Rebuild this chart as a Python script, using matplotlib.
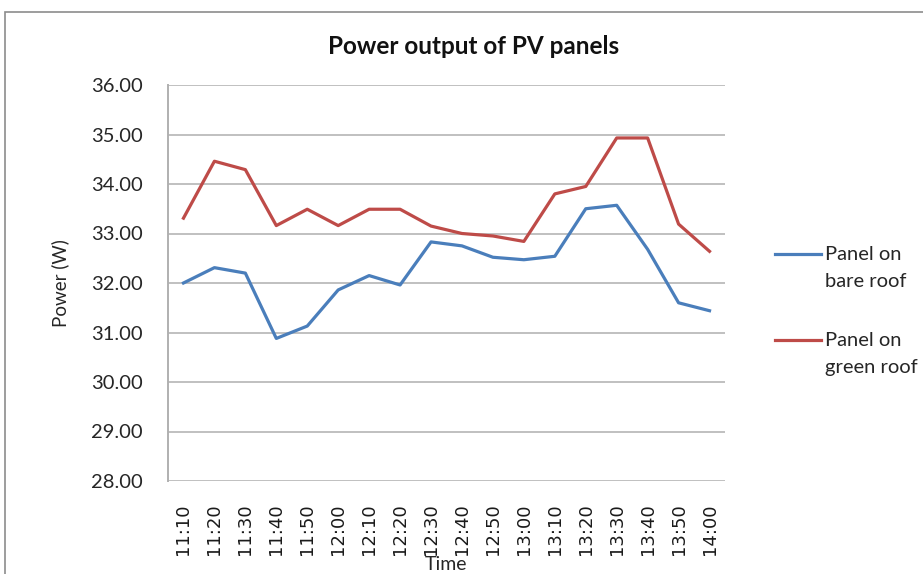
import matplotlib
matplotlib.use("Agg")
import matplotlib.pyplot as plt
from matplotlib.patches import Rectangle
from matplotlib.lines import Line2D

times = ["11:10", "11:20", "11:30", "11:40", "11:50", "12:00", "12:10", "12:20", "12:30",
         "12:40", "12:50", "13:00", "13:10", "13:20", "13:30", "13:40", "13:50", "14:00"]
bare_roof = [32.00, 32.31, 32.20, 30.88, 31.13, 31.86, 32.15, 31.96, 32.83,
             32.75, 32.52, 32.47, 32.54, 33.50, 33.57, 32.68, 31.60, 31.44]
green_roof = [33.31, 34.46, 34.29, 33.16, 33.49, 33.16, 33.49, 33.49, 33.15,
              33.00, 32.95, 32.84, 33.80, 33.95, 34.93, 34.93, 33.19, 32.64]
series_labels = ["Panel on\nbare roof", "Panel on\ngreen roof"]
series_colors = ["#4A7EBB", "#BE4B48"]
yticks = [28, 29, 30, 31, 32, 33, 34, 35, 36]

W, H = 923, 574
fig = plt.figure(figsize=(W / 100, H / 100), dpi=100)
fig.patches.append(Rectangle((5 / W, -0.01), 1.0, 1 - 12 / H + 0.01, transform=fig.transFigure,
                             fill=False, edgecolor="#8c8c8c", linewidth=1.2))
ax = fig.add_axes([168 / W, 1 - 481 / H, (725 - 168) / W, (481 - 85) / H])

x = list(range(len(times)))
for vals, col in zip([bare_roof, green_roof], series_colors):
    ax.plot(x, vals, color=col, linewidth=2.3)

ax.set_xlim(-0.5, len(times) - 0.5)
ax.set_ylim(28, 36)
ax.set_yticks(yticks)
ax.set_yticklabels([f"{v:.2f}" for v in yticks], fontsize=14.5, fontfamily="Lato", color="#262626")
ax.set_xticks(x)
ax.set_xticklabels(times, rotation=90, fontsize=13, color="#1a1a1a")
ax.tick_params(axis="x", length=0, pad=16)
ax.tick_params(axis="y", length=0, pad=18)
ax.grid(axis="y", color="#c0c0c0", linewidth=1.4)
ax.set_axisbelow(True)
for s in ["top", "right", "bottom"]:
    ax.spines[s].set_visible(False)
ax.spines["left"].set_color("#b0b0b0")
ax.spines["left"].set_linewidth(1.4)

fig.text(474 / W, 1 - 47 / H, "Power output of PV panels", fontsize=17.5, fontweight="bold",
         fontfamily="Lato", ha="center", va="center", color="#111111")
ax.set_ylabel("Power (W)", fontsize=13.5, fontfamily="Lato", labelpad=16, color="#262626")
ax.set_xlabel("Time", fontsize=14, fontfamily="Lato", labelpad=1, color="#262626")

for i, (lbl, col) in enumerate(zip(series_labels, series_colors)):
    y0 = 254 + i * 86
    fig.lines.append(Line2D([775 / W, 821 / W], [1 - y0 / H, 1 - y0 / H], transform=fig.transFigure,
                            color=col, linewidth=2.3))
    fig.text(825 / W, 1 - (y0 - 8) / H, lbl, fontsize=14.5, fontfamily="Lato", ha="left", va="top",
             linespacing=1.7, color="#262626")

fig.savefig("out.png", dpi=100)
